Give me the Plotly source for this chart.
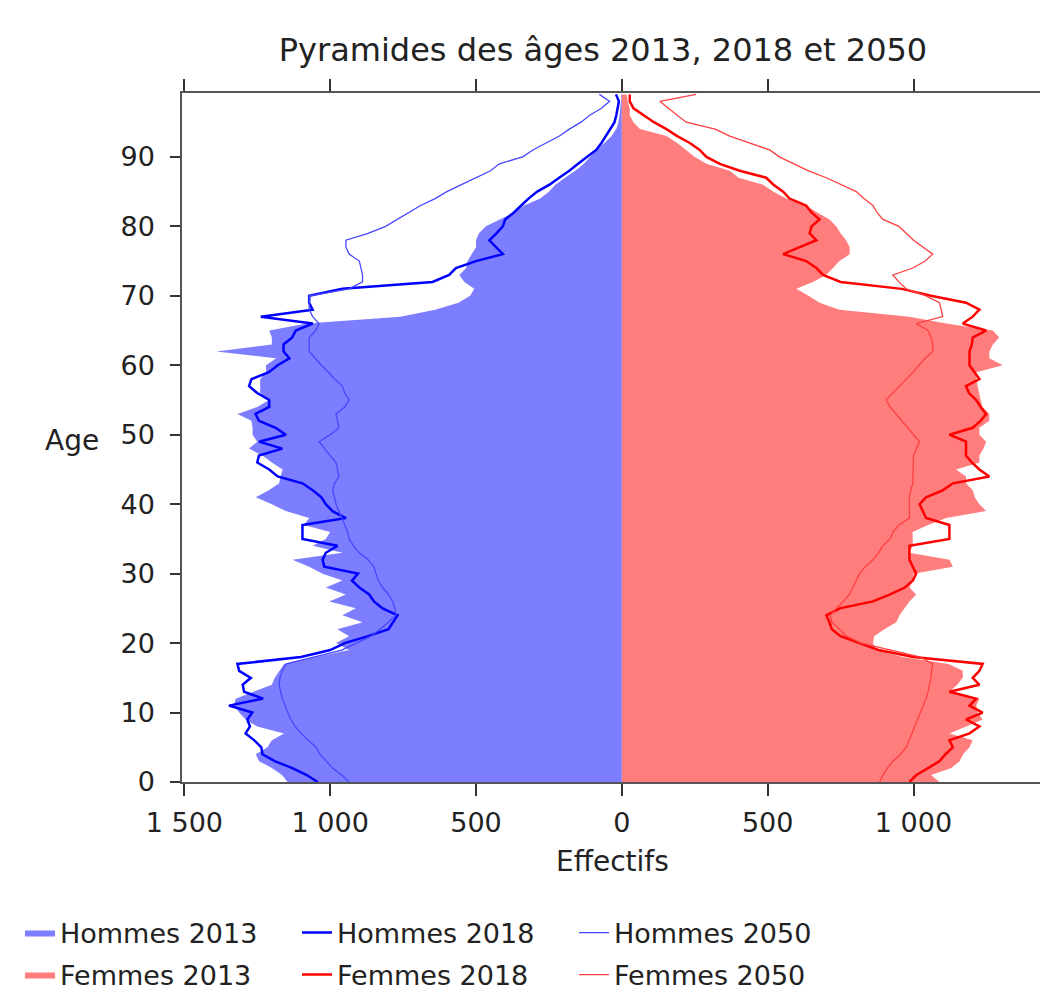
import plotly.graph_objects as go

ages = list(range(100))

hommes_2013 = [1146, 1165, 1200, 1244, 1255, 1215, 1200, 1158, 1250, 1290,
               1312, 1330, 1324, 1260, 1200, 1190, 1175, 1158, 1050, 935,
               980, 935, 975, 889, 958, 912, 1003, 946, 1015, 958,
               1026, 1072, 1129, 958, 1060, 1015, 1000, 1090, 1072, 1152,
               1200, 1255, 1210, 1175, 1170, 1163, 1200, 1232, 1278, 1250,
               1266, 1266, 1270, 1318, 1250, 1210, 1240, 1240, 1240, 1220,
               1220, 1185, 1390, 1200, 1200, 1209, 1080, 760, 640, 560,
               520, 506, 540, 557, 534, 529, 515, 500, 500, 490,
               466, 420, 370, 335, 280, 250, 228, 195, 160, 130,
               108, 88, 60, 35, 19, 12, 8, 5, 3, 2]

hommes_2018 = [1043, 1080, 1130, 1190, 1232, 1236, 1260, 1290, 1275, 1284,
               1267, 1347, 1230, 1295, 1300, 1272, 1312, 1318, 1100, 1000,
               950, 870, 800, 785, 769, 820, 850, 866, 900, 925,
               905, 1020, 1026, 1015, 975, 1095, 1095, 1095, 946, 992,
               1015, 1030, 1060, 1095, 1180, 1209, 1250, 1244, 1164, 1244,
               1152, 1187, 1244, 1256, 1209, 1209, 1250, 1278, 1270, 1210,
               1180, 1140, 1160, 1160, 1130, 1118, 1060, 1238, 1060, 1072,
               1072, 958, 649, 592, 569, 500, 408, 431, 454, 430,
               408, 400, 370, 345, 320, 290, 248, 215, 180, 150,
               120, 88, 70, 54, 40, 25, 19, 15, 10, 20]

hommes_2050 = [935, 960, 992, 1015, 1035, 1049, 1075, 1100, 1120, 1135,
               1145, 1155, 1164, 1170, 1175, 1172, 1165, 1150, 1060, 960,
               910, 860, 830, 800, 775, 778, 786, 800, 820, 835,
               843, 850, 870, 900, 920, 935, 940, 950, 958, 970,
               980, 985, 992, 985, 970, 975, 980, 1000, 1020, 1038,
               1000, 970, 975, 980, 950, 935, 950, 958, 985, 1005,
               1030, 1050, 1072, 1072, 1072, 1050, 1038, 1060, 1072, 1072,
               1072, 935, 889, 889, 895, 900, 935, 946, 946, 870,
               810, 770, 730, 690, 640, 600, 550, 500, 450, 420,
               340, 305, 260, 214, 180, 140, 110, 70, 42, 77]

femmes_2013 = [1089, 1060, 1130, 1158, 1170, 1192, 1203, 1123, 1180, 1237,
               1220, 1215, 1226, 1123, 1150, 1169, 1169, 1120, 963, 872,
               861, 865, 900, 941, 952, 970, 986, 1009, 986, 998,
               1000, 1135, 1123, 986, 998, 997, 997, 1050, 1112, 1249,
               1226, 1210, 1203, 1180, 1180, 1146, 1226, 1226, 1240, 1249,
               1226, 1226, 1260, 1260, 1237, 1230, 1226, 1220, 1215, 1215,
               1306, 1260, 1260, 1272, 1294, 1272, 1112, 986, 746, 678,
               640, 598, 655, 700, 724, 746, 781, 781, 769, 750,
               735, 712, 670, 632, 564, 520, 484, 400, 370, 290,
               250, 221, 190, 153, 62, 40, 27, 27, 20, 16]

femmes_2018 = [986, 1010, 1050, 1089, 1110, 1135, 1123, 1192, 1226, 1180,
               1237, 1192, 1215, 1123, 1226, 1203, 1226, 1237, 1000, 880,
               815, 750, 720, 712, 701, 747, 861, 920, 970, 998,
               1009, 998, 986, 986, 986, 1123, 1123, 1123, 1043, 1032,
               1021, 1043, 1100, 1135, 1260, 1226, 1200, 1180, 1180, 1180,
               1123, 1203, 1230, 1249, 1230, 1215, 1190, 1180, 1226, 1210,
               1192, 1192, 1192, 1200, 1203, 1249, 1169, 1203, 1226, 1180,
               1060, 960, 750, 690, 667, 632, 553, 610, 667, 644,
               650, 678, 650, 632, 575, 553, 520, 495, 404, 336,
               290, 267, 233, 190, 153, 110, 73, 40, 27, 27]

femmes_2050 = [884, 895, 910, 930, 955, 975, 985, 995, 1005, 1015,
               1025, 1035, 1043, 1050, 1055, 1060, 1062, 1066, 1021, 920,
               820, 770, 747, 720, 715, 735, 760, 780, 792, 805,
               815, 835, 861, 880, 895, 920, 930, 950, 986, 986,
               986, 986, 990, 998, 998, 998, 998, 1000, 1010, 1021,
               1000, 980, 960, 941, 920, 906, 930, 952, 975, 998,
               1020, 1040, 1066, 1066, 1060, 1050, 1009, 1100, 1095, 1089,
               1043, 975, 950, 929, 998, 1040, 1066, 1032, 1000, 975,
               950, 895, 875, 861, 830, 804, 750, 701, 640, 587,
               540, 507, 440, 370, 320, 221, 190, 160, 130, 255]

x_tickvals = [-1500, -1000, -500, 0, 500, 1000]
x_ticktext = ["1 500", "1 000", "500", "0", "500", "1 000"]
y_tickvals = [0, 10, 20, 30, 40, 50, 60, 70, 80, 90]

FONT = "DejaVu Sans"
TXT = "#222222"

W, H = 1040, 984
L, T = 174, 85
PW, PH = 861, 689

fig = go.Figure()

fig.add_trace(go.Scatter(x=[-v for v in hommes_2013], y=ages, mode="lines",
                         fill="tozerox", fillcolor="#7d7dff",
                         line=dict(width=0, color="#7d7dff"),
                         name="Hommes 2013", legend="legend"))
fig.add_trace(go.Scatter(x=femmes_2013, y=ages, mode="lines",
                         fill="tozerox", fillcolor="#ff7d7d",
                         line=dict(width=0, color="#ff7d7d"),
                         name="Femmes 2013", legend="legend2"))
fig.add_trace(go.Scatter(x=[-v for v in hommes_2018], y=ages, mode="lines",
                         line=dict(width=2.5, color="#0000ff"),
                         name="Hommes 2018", legend="legend"))
fig.add_trace(go.Scatter(x=[-v for v in hommes_2050], y=ages, mode="lines",
                         line=dict(width=1.3, color="#4747ff"),
                         name="Hommes 2050", legend="legend"))
fig.add_trace(go.Scatter(x=femmes_2018, y=ages, mode="lines",
                         line=dict(width=2.5, color="#ff0000"),
                         name="Femmes 2018", legend="legend2"))
fig.add_trace(go.Scatter(x=femmes_2050, y=ages, mode="lines",
                         line=dict(width=1.3, color="#ff4040"),
                         name="Femmes 2050", legend="legend2"))

legend_common = dict(orientation="h", xref="container", yref="container",
                     x=12 / W, xanchor="left", yanchor="middle",
                     font=dict(family=FONT, size=27, color=TXT),
                     bgcolor="rgba(0,0,0,0)", traceorder="normal",
                     entrywidth=232, itemwidth=30)

fig.update_layout(
    width=W, height=H,
    margin=dict(l=L, r=W - L - PW, t=T, b=H - T - PH, autoexpand=False),
    paper_bgcolor="white", plot_bgcolor="white",
    title=dict(text="Pyramides des âges 2013, 2018 et 2050",
               x=595 / W, xanchor="center", y=1 - 42 / H, yanchor="middle",
               font=dict(family=FONT, size=32, color=TXT)),
    legend=dict(y=1 - 925 / H, **legend_common),
    legend2=dict(y=1 - 967 / H, **legend_common),
    showlegend=True,
    xaxis=dict(range=[-1508, 1444], tickvals=x_tickvals, ticktext=x_ticktext,
               automargin=False,
               showgrid=False, zeroline=False, showline=True, linecolor="#555555",
               linewidth=1.5, mirror="ticks", ticks="outside", ticklen=12,
               tickcolor="#333333", tickwidth=1.5,
               tickfont=dict(family=FONT, size=27, color=TXT),
               ticklabelstandoff=4),
    yaxis=dict(range=[0, 99.2], tickvals=y_tickvals, automargin=False,
               showgrid=False, zeroline=False, showline=True, linecolor="#555555",
               linewidth=1.5, mirror="ticks", ticks="outside", ticklen=10,
               tickcolor="#333333", tickwidth=1.5,
               tickfont=dict(family=FONT, size=27, color=TXT),
               ticklabelstandoff=10),
    annotations=[
        dict(text="Effectifs", xref="paper", yref="paper", x=(612 - 182) / PW,
             y=(782 - 862) / PH, xanchor="center", yanchor="middle",
             showarrow=False, font=dict(family=FONT, size=28, color=TXT)),
        dict(text="Age", xref="paper", yref="paper", x=(72 - 182) / PW,
             y=(782 - 440) / PH, xanchor="center", yanchor="middle",
             showarrow=False, font=dict(family=FONT, size=28, color=TXT)),
    ],
)

fig.write_html("out.html")
